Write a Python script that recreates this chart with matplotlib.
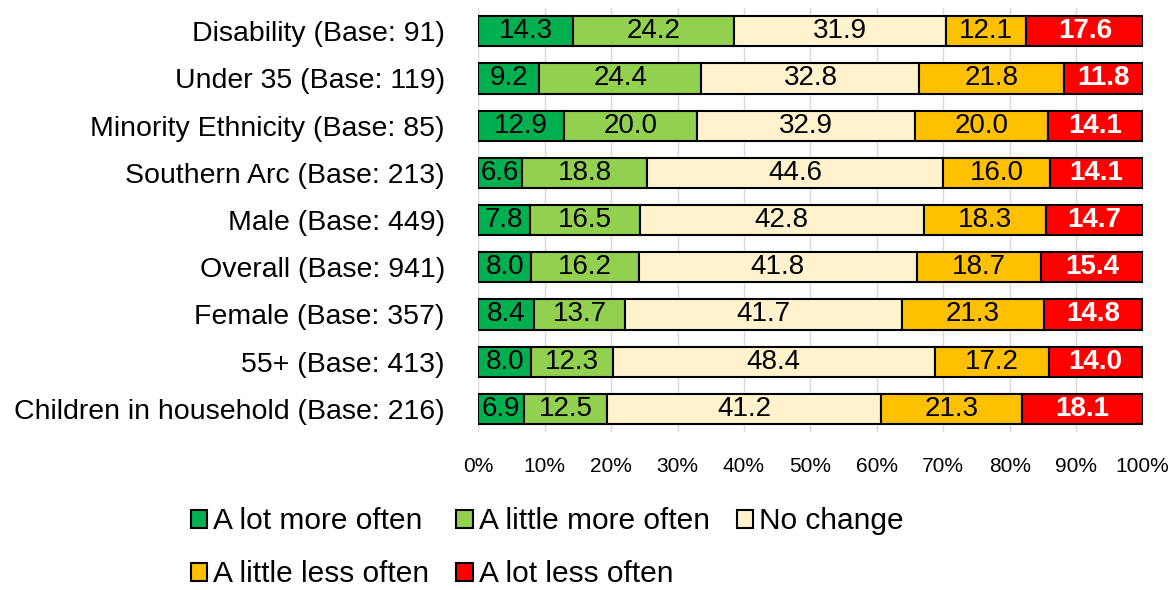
import numpy as np
import matplotlib.pyplot as plt

plt.rcParams['font.family'] = ['Liberation Sans', 'DejaVu Sans']

groups = ['Disability (Base: 91)', 'Under 35 (Base: 119)', 'Minority Ethnicity (Base: 85)',
          'Southern Arc (Base: 213)', 'Male (Base: 449)', 'Overall (Base: 941)',
          'Female (Base: 357)', '55+ (Base: 413)', 'Children in household (Base: 216)']
lot_more = [14.3, 9.2, 12.9, 6.6, 7.8, 8.0, 8.4, 8.0, 6.9]
little_more = [24.2, 24.4, 20.0, 18.8, 16.5, 16.2, 13.7, 12.3, 12.5]
no_change = [31.9, 32.8, 32.9, 44.6, 42.8, 41.8, 41.7, 48.4, 41.2]
little_less = [12.1, 21.8, 20.0, 16.0, 18.3, 18.7, 21.3, 17.2, 21.3]
lot_less = [17.6, 11.8, 14.1, 14.1, 14.7, 15.4, 14.8, 14.0, 18.1]

series = [lot_more, little_more, no_change, little_less, lot_less]
names = ['A lot more often', 'A little more often', 'No change', 'A little less often', 'A lot less often']
colors = ['#00B050', '#92D050', '#FFF2CC', '#FFC000', '#FF0000']
txtcol = ['black', 'black', 'black', 'black', 'white']
weights = ['normal', 'normal', 'normal', 'normal', 'bold']

fig = plt.figure(figsize=(11.72, 5.9), dpi=100)
ax = fig.add_axes([0.408, 0.267, 0.567, 0.72])

y = np.arange(len(groups))
left = np.zeros(len(groups))
handles = []
for vals, nm, c, tc, w in zip(series, names, colors, txtcol, weights):
    vals = np.array(vals)
    b = ax.barh(y, vals, left=left, height=0.64, color=c, edgecolor='black', linewidth=1.5, label=nm, zorder=3)
    handles.append(b)
    for yi, l, v in zip(y, left, vals):
        ax.text(l + v / 2, yi, f'{v:.1f}', ha='center', va='center', fontsize=20, color=tc, fontweight=w, zorder=4)
    left += vals

ax.set_xlim(0, 100)
ax.set_ylim(len(groups) - 0.5, -0.5)
ax.set_yticks(y)
ax.set_yticklabels(groups, fontsize=20.5)
ax.set_xticks(np.arange(0, 101, 10))
ax.set_xticklabels([f'{t}%' for t in range(0, 101, 10)], fontsize=15)
ax.tick_params(length=0)
ax.tick_params(axis='x', pad=18)
ax.tick_params(axis='y', pad=24)
ax.grid(axis='x', color='#D9D9D9', linewidth=1, zorder=0)
for s in ax.spines.values():
    s.set_visible(False)

order = [0, 3, 1, 4, 2]
fig.legend([handles[i] for i in order], [names[i] for i in order], ncol=3, loc='upper left',
           bbox_to_anchor=(0.163, 0.14), frameon=False, fontsize=21.5, handlelength=0.55,
           handleheight=0.55, handletextpad=0.2, columnspacing=0.9, labelspacing=0.84,
           borderpad=0, borderaxespad=0)

fig.savefig('out.png', dpi=100)
